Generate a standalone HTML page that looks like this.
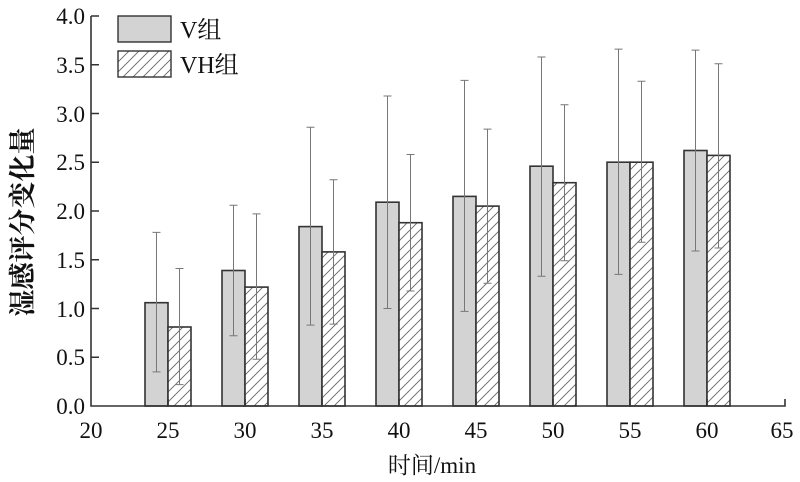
<!DOCTYPE html>
<html><head><meta charset="utf-8"><style>
html,body{margin:0;padding:0;background:#fff;}
svg{display:block;}
text{font-family:"Liberation Serif","Noto Serif CJK SC",serif;fill:#111;}
</style></head><body>
<svg width="800" height="482" viewBox="0 0 800 482" xmlns="http://www.w3.org/2000/svg">
<defs>
<pattern id="h" patternUnits="userSpaceOnUse" width="10" height="10">
<rect width="10" height="10" fill="#fff"/>
<path d="M-2,2 L2,-2 M0,10 L10,0 M8,12 L12,8" stroke="#666" stroke-width="0.9"/>
</pattern>
</defs>
<g stroke="#333" stroke-width="1.6">
<rect x="145" y="302.7" width="23" height="103.3" fill="#d3d3d3"/>
<rect x="168" y="327.0" width="23" height="79" fill="url(#h)"/>
<rect x="222" y="270.5" width="23" height="135.5" fill="#d3d3d3"/>
<rect x="245" y="287.1" width="23" height="118.9" fill="url(#h)"/>
<rect x="299" y="226.6" width="23" height="179.4" fill="#d3d3d3"/>
<rect x="322" y="251.9" width="23" height="154.1" fill="url(#h)"/>
<rect x="376" y="202.2" width="23" height="203.8" fill="#d3d3d3"/>
<rect x="399" y="222.7" width="23" height="183.3" fill="url(#h)"/>
<rect x="453" y="196.4" width="23" height="209.6" fill="#d3d3d3"/>
<rect x="476" y="206.1" width="23" height="199.9" fill="url(#h)"/>
<rect x="530" y="166.2" width="23" height="239.8" fill="#d3d3d3"/>
<rect x="553" y="182.7" width="23" height="223.3" fill="url(#h)"/>
<rect x="607" y="162.2" width="23" height="243.8" fill="#d3d3d3"/>
<rect x="630" y="162.2" width="23" height="243.8" fill="url(#h)"/>
<rect x="684" y="150.5" width="23" height="255.5" fill="#d3d3d3"/>
<rect x="707" y="155.4" width="23" height="250.6" fill="url(#h)"/>
</g>
<g stroke="#777" stroke-width="1" fill="none">
<path d="M156.5,232.4V371.9M152.5,232.4h8M152.5,371.9h8"/>
<path d="M179.5,268.5V384.6M175.5,268.5h8M175.5,384.6h8"/>
<path d="M233.5,205.2V335.8M229.5,205.2h8M229.5,335.8h8"/>
<path d="M256.5,213.9V359.2M252.5,213.9h8M252.5,359.2h8"/>
<path d="M310.5,127.2V325.1M306.5,127.2h8M306.5,325.1h8"/>
<path d="M333.5,179.8V324.1M329.5,179.8h8M329.5,324.1h8"/>
<path d="M387.5,96V308.5M383.5,96h8M383.5,308.5h8"/>
<path d="M410.5,154.5V291M406.5,154.5h8M406.5,291h8"/>
<path d="M464.5,80.4V311.4M460.5,80.4h8M460.5,311.4h8"/>
<path d="M487.5,129.1V283.2M483.5,129.1h8M483.5,283.2h8"/>
<path d="M541.5,57V276.3M537.5,57h8M537.5,276.3h8"/>
<path d="M564.5,104.7V260.7M560.5,104.7h8M560.5,260.7h8"/>
<path d="M618.5,49.1V274.4M614.5,49.1h8M614.5,274.4h8"/>
<path d="M641.5,81.3V242.2M637.5,81.3h8M637.5,242.2h8"/>
<path d="M695.5,50.1V251M691.5,50.1h8M691.5,251h8"/>
<path d="M718.5,63.8V248M714.5,63.8h8M714.5,248h8"/>
</g>
<g stroke="#333" stroke-width="1.6" fill="none">
<path d="M91,16V406H785V399"/>
<path d="M91,16h8M91,64.75h8M91,113.5h8M91,162.25h8M91,211h8M91,259.75h8M91,308.5h8M91,357.25h8"/>
<path d="M168,406v-7M245,406v-7M322,406v-7M399,406v-7M476,406v-7M553,406v-7M630,406v-7M707,406v-7"/>
</g>
<g font-size="23" text-anchor="end">
<text x="85" y="24">4.0</text><text x="85" y="73">3.5</text><text x="85" y="122">3.0</text>
<text x="85" y="170">2.5</text><text x="85" y="219">2.0</text><text x="85" y="268">1.5</text>
<text x="85" y="317">1.0</text><text x="85" y="365">0.5</text><text x="85" y="414">0.0</text>
</g>
<g font-size="23" text-anchor="middle">
<text x="91" y="438">20</text><text x="168" y="438">25</text><text x="245" y="438">30</text>
<text x="322" y="438">35</text><text x="399" y="438">40</text><text x="476" y="438">45</text>
<text x="553" y="438">50</text><text x="630" y="438">55</text><text x="707" y="438">60</text>
<text x="782" y="438">65</text>
</g>
<text x="432" y="473" font-size="23" text-anchor="middle">时间/min</text>
<text transform="translate(32,222) rotate(-90)" font-size="27" font-weight="bold" text-anchor="middle">湿感评分变化量</text>
<rect x="118" y="16" width="53" height="26" fill="#d3d3d3" stroke="#333" stroke-width="1.4"/>
<rect x="118" y="51" width="53" height="26" fill="url(#h)" stroke="#333" stroke-width="1.4"/>
<text x="180" y="38" font-size="24">V组</text>
<text x="180" y="73" font-size="24">VH组</text>
</svg>
</body></html>
